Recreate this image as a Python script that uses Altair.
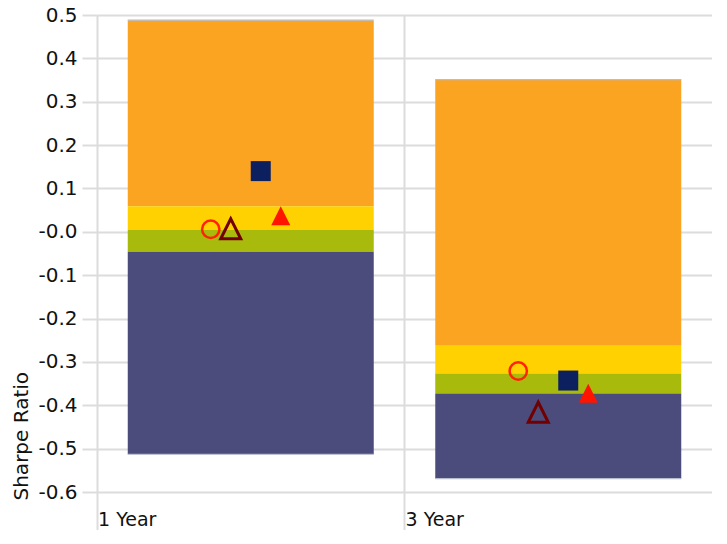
import altair as alt
import pandas as pd

# ---- data ----
periods = ["1 Year", "3 Year"]

# quartile band boundaries (top -> bottom)
bar_top = [0.488, 0.351]
quartile_1 = [0.059, -0.263]
median = [0.004, -0.327]
quartile_3 = [-0.046, -0.373]
bar_bottom = [-0.513, -0.569]

segment_names = ["Top quartile", "Second quartile", "Third quartile", "Bottom quartile"]
segment_colors = ["#FBA422", "#FFD100", "#A8BA0C", "#4B4C7B"]

# point series
series_circle = [0.006, -0.321]      # red open circle
series_open_tri = [0.007, -0.416]    # dark red open triangle
series_square = [0.140, -0.343]      # navy square
series_filled_tri = [0.037, -0.372]  # red filled triangle

y_tick_values = [0.5, 0.4, 0.3, 0.2, 0.1, 0.0, -0.1, -0.2, -0.3, -0.4, -0.5, -0.6]

# ---- tables ----
bounds = list(zip(bar_top, quartile_1, median, quartile_3, bar_bottom))
seg_rows = []
for p, b in zip(periods, bounds):
    for i, name in enumerate(segment_names):
        seg_rows.append({"period": p, "segment": name, "hi": b[i], "lo": b[i + 1]})
seg_df = pd.DataFrame(seg_rows)

edge_df = pd.DataFrame(
    [{"period": p, "v": v} for p, t, btm in zip(periods, bar_top, bar_bottom) for v in (t, btm)]
)

def series_df(vals):
    return pd.DataFrame({"period": periods, "value": vals})

GRID = "#DCDCDC"
FONT = "DejaVu Sans"

W = 615
BAND = W / 2

x_scale = alt.Scale(domain=periods, paddingInner=0, paddingOuter=0)
y_scale = alt.Scale(domain=[-0.6, 0.5], nice=False, zero=False)

x_axis = alt.Axis(
    title=None, grid=True, gridColor=GRID, gridWidth=2, bandPosition=0,
    ticks=True, tickSize=38, tickColor=GRID, tickWidth=2, domain=False,
    labelAlign="left", labelBaseline="top", labelPadding=-20, labelOffset=1 - BAND / 2,
    labelFont=FONT, labelFontSize=19, labelColor="#111111", labelAngle=0,
)
y_axis = alt.Axis(
    values=y_tick_values,
    labelExpr="(datum.value <= 0 ? '-' : '') + format(abs(datum.value), '.1f')",
    grid=True, gridColor=GRID, gridWidth=2,
    tickSize=15, tickColor=GRID, tickWidth=2, domain=False,
    labelPadding=5, labelFont=FONT, labelFontSize=20, labelColor="#111111",
    title="Sharpe Ratio", titleFont=FONT, titleFontSize=20, titleFontWeight="normal",
    titleColor="#111111", titleAnchor="start", titlePadding=6, titleY=485,
)

def X():
    return alt.X("period:N", scale=x_scale, axis=x_axis)

bars = alt.Chart(seg_df).mark_bar(width={"band": 0.8}).encode(
    x=X(),
    y=alt.Y("hi:Q", scale=y_scale, axis=y_axis),
    y2="lo:Q",
    color=alt.Color("segment:N", scale=alt.Scale(domain=segment_names, range=segment_colors), legend=None),
)

edges = alt.Chart(edge_df).mark_tick(size=BAND * 0.8, thickness=1.2, color="#B8BCCB", opacity=1).encode(
    x=X(), y=alt.Y("v:Q", scale=y_scale, axis=y_axis)
)

TRI = "M0,-1L-1,1L1,1Z"

def pts(vals, offset, **mk):
    return alt.Chart(series_df(vals)).mark_point(opacity=1, **mk).encode(
        x=X(), y=alt.Y("value:Q", scale=y_scale, axis=y_axis),
        xOffset=alt.value(BAND / 2 + offset),
    )

p_circle = pts(series_circle, -40, shape="circle", filled=False, size=300, strokeWidth=2.5, color="#FF2200")
p_otri = pts(series_open_tri, -20, shape=TRI, filled=False, size=400, strokeWidth=3, color="#720000")
p_square = pts(series_square, 10, shape="square", filled=True, size=400, color="#0C1F5F")
p_ftri = pts(series_filled_tri, 30, shape=TRI, filled=True, size=361, color="#FF1400")

chart = alt.layer(bars, edges, p_circle, p_otri, p_square, p_ftri).properties(
    width=W, height=477,
    autosize=alt.AutoSizeParams(type="none"),
    padding={"left": 89, "top": 7, "right": 0, "bottom": 38},
    background="white",
).configure_view(strokeWidth=0)

chart.save("out.html", embed_options={"renderer": "svg", "actions": False})
